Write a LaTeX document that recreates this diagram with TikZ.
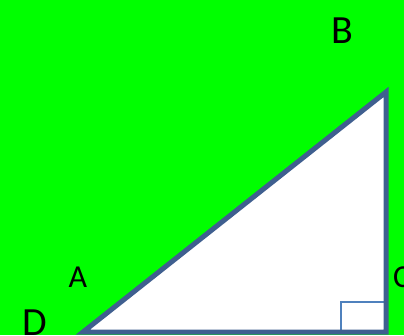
\documentclass[tikz,border=0pt]{standalone}
\usepackage{fontspec}
\setmainfont{Carlito}
\definecolor{bggreen}{HTML}{00FF00}
\definecolor{edgeblue}{HTML}{3F5F8F}
\definecolor{markblue}{HTML}{4F81BD}
\begin{document}
\begin{tikzpicture}[x=1pt,y=1pt,
  big/.style={font=\fontsize{40}{40}\selectfont, inner sep=0pt, text=black},
  small/.style={font=\fontsize{32}{32}\selectfont, inner sep=0pt, text=black}]
\fill[bggreen] (0,0) rectangle (404,335);
\useasboundingbox (0,0) rectangle (404,335);
\coordinate (D) at (83,3);
\coordinate (B) at (386,243);
\coordinate (C) at (386,3);
\fill[white] (D) -- (B) -- (C) -- cycle;
\draw[markblue, line width=1.3pt] (341,3) rectangle (386,33);
\draw[edgeblue, line width=5pt, line join=miter] (D) -- (B) -- (C) -- cycle;
\node[big] (lB) at (342,304) {B};
\node[small] (lA) at (78,58) {A};
\node[small, anchor=west] (lC) at (393,58) {C};
\node[big, anchor=west] (lD) at (22,12) {D};
\end{tikzpicture}
\end{document}
